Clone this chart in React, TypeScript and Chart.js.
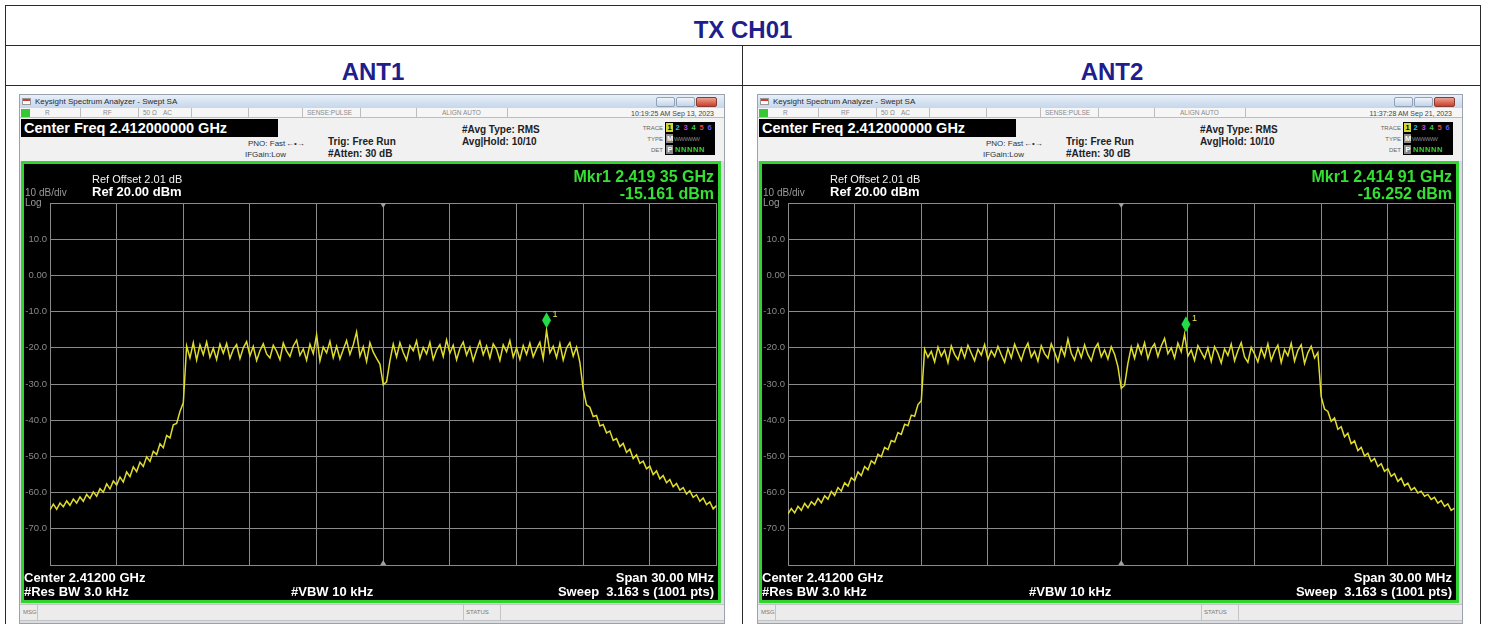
import React, { useEffect, useRef } from "react";
import { Chart, registerables } from "chart.js";

Chart.register(...registerables);
Chart.defaults.font.family = '"Liberation Sans", Arial, sans-serif';

// ---- sweep grid (1 point every 0.15 MHz, offset from centre 2.412 GHz) ----
const FREQ_START_MHZ = -15;
const FREQ_STEP_MHZ = 0.15;
const X_MIN = -15;
const X_MAX = 15;
const X_STEP = 3;
const Y_MIN = -80;
const Y_MAX = 20;
const Y_STEP = 10;
const Y_TICK_VALUES = [10, 0, -10, -20, -30, -40, -50, -60, -70];
const Y_TICK_TEXT = ["10.0", "0.00", "-10.0", "-20.0", "-30.0", "-40.0", "-50.0", "-60.0", "-70.0"];

// ---- ANT1 trace (dBm) ----
const ant1Trace = [
  -64.8, -63.2, -64.6, -62.9, -63.9, -62.3, -63.5, -61.8, -62.9, -61.2, -62.4, -60.5, -61.6, -59.8, -61.0, -58.9, -59.9, -57.6, -59.0, -56.8,
  -57.9, -55.7, -57.1, -54.3, -55.6, -52.9, -54.2, -51.6, -52.8, -50.1, -51.4, -48.6, -49.5, -46.5, -47.6, -44.2, -44.9, -41.3, -40.9, -37.6,
  -35.2,
  -19.5, -22.8, -18.6, -23.4, -19.2, -21.9, -18.4, -22.6, -20.1, -23.2, -19.0, -21.5, -18.8, -22.9, -20.4, -19.1, -23.0, -20.0, -18.3, -22.2,
  -19.6, -23.5, -20.8, -18.9, -21.7, -22.8, -19.3, -21.0, -23.3, -18.7, -20.9, -22.4, -19.5, -17.9, -22.1, -20.3, -23.4, -19.0, -21.6, -16.4,
  -23.6, -19.8, -21.4, -18.2, -22.7, -19.6, -23.1, -20.5, -18.0, -21.8, -19.2, -15.6, -22.3, -19.7, -23.8, -18.6, -21.2, -22.9,
  -24.5, -30.2, -29.4, -23.6,
  -19.0, -22.5, -18.6, -21.3, -23.4, -19.4, -20.8, -18.1, -22.9, -19.9, -21.7, -18.5, -23.2, -20.6, -19.1, -22.4, -17.8, -21.5,
  -19.3, -23.3, -20.2, -18.4, -22.0, -19.8, -23.6, -20.7, -18.2, -21.9, -19.5, -22.8, -18.9, -20.4, -23.5, -19.2, -21.1, -18.0, -22.6, -20.0,
  -23.2, -19.4, -21.8, -18.7, -22.5, -20.3, -18.5, -23.0, -15.161, -21.4, -19.6, -22.7, -18.8, -23.4, -20.1, -18.6, -22.3, -19.8, -24.0,
  -31.5, -35.8, -36.4, -39.0, -38.7, -41.6, -41.2, -43.5, -43.0, -45.6, -45.1, -47.3, -46.4, -48.9, -48.0, -50.6, -49.6, -51.9, -51.3, -53.4,
  -52.7, -55.0, -54.0, -56.2, -55.3, -57.3, -56.4, -58.4, -57.5, -59.3, -58.6, -60.4, -59.5, -61.3, -60.6, -62.4, -61.5, -63.3, -62.6, -64.5,
  -63.6,
];

// ---- ANT2 trace (dBm) ----
const ant2Trace = [
  -65.9, -64.4, -65.6, -63.8, -64.9, -63.0, -64.2, -62.5, -63.4, -61.6, -62.8, -60.9, -61.8, -59.7, -60.8, -58.6, -59.6, -57.3, -58.2, -55.9,
  -56.7, -54.3, -55.3, -52.8, -53.7, -51.2, -52.0, -49.4, -50.1, -47.5, -48.1, -45.6, -46.0, -43.4, -43.9, -41.1, -41.5, -38.6, -38.9, -35.7,
  -34.6,
  -20.4, -22.6, -21.0, -23.9, -19.8, -22.3, -20.6, -24.1, -19.5, -21.8, -23.3, -20.1, -22.7, -19.3, -21.5, -23.6, -20.4, -22.0, -19.1, -23.2,
  -20.8, -22.4, -19.6, -21.9, -24.0, -20.2, -22.8, -19.0, -21.3, -23.5, -20.5, -18.7, -22.6, -20.9, -23.7, -19.4, -21.6, -22.9, -18.9, -21.2,
  -23.8, -19.9, -22.2, -17.6, -21.5, -23.4, -20.1, -22.7, -19.2, -21.9, -23.6, -20.3, -18.8, -22.5, -20.6, -23.1, -19.7, -21.8,
  -25.2, -31.2, -30.4, -24.3,
  -19.8, -22.9, -19.1, -21.7, -18.6, -23.0, -20.2, -18.9, -22.4, -19.5, -17.4, -21.6, -20.0, -22.8, -18.7, -21.1, -16.252, -22.3,
  -20.6, -23.5, -19.4, -21.2, -22.9, -20.0, -23.8, -19.7, -21.5, -24.2, -20.3, -22.1, -19.0, -23.6, -20.8, -18.6, -22.5, -24.0, -19.9, -21.7,
  -23.9, -20.2, -22.6, -18.9, -23.5, -21.0, -19.3, -24.1, -20.5, -22.2, -18.8, -23.7, -20.7, -19.2, -24.3, -21.4, -19.6, -22.8, -21.3,
  -33.5, -36.9, -37.6, -40.3, -39.4, -42.5, -41.8, -44.6, -43.6, -46.5, -45.7, -48.4, -47.5, -49.9, -49.1, -51.4, -50.6, -52.8, -52.0, -54.1,
  -53.4, -55.5, -54.8, -56.9, -56.0, -58.1, -57.4, -59.3, -58.6, -60.1, -59.6, -61.0, -60.5, -61.9, -61.3, -62.9, -62.2, -63.8, -63.1, -64.9,
  -64.3,
];

// ---- markers (MHz offset, dBm) ----
const ant1Marker = [7.35, -15.161];
const ant2Marker = [2.91, -16.252];

const FONT = '"Liberation Sans", Arial, sans-serif';
const GRID = "#8a8a8a";
const NAVY = "#1e1e8c";
const GREEN = "#2fd42f";

function Txt({ x, y, s, t, c = "#000", b = false, a = "l", ls = 0 }: any) {
  const tr = a === "r" ? "translateX(-100%)" : a === "c" ? "translateX(-50%)" : undefined;
  return (
    <div
      style={{
        position: "absolute",
        left: x,
        top: y - s * 0.5,
        fontSize: s,
        lineHeight: `${s}px`,
        fontWeight: b ? 700 : 400,
        color: c,
        whiteSpace: "pre",
        transform: tr,
        letterSpacing: ls,
        fontFamily: FONT,
        zIndex: 3,
      }}
    >
      {t}
    </div>
  );
}

function Box({ x, y, w, h, st }: any) {
  return <div style={{ position: "absolute", left: x, top: y, width: w, height: h, boxSizing: "border-box", ...st }} />;
}

function Spectrum({ left, top, width, height, trace, marker }: any) {
  const ref = useRef<HTMLCanvasElement>(null);
  useEffect(() => {
    const points = trace.map((v: number, i: number) => ({ x: FREQ_START_MHZ + i * FREQ_STEP_MHZ, y: v }));
    const overlay = {
      id: "saOverlay",
      afterDatasetsDraw(chart: any) {
        const { ctx, chartArea } = chart;
        const xs = chart.scales.x;
        const ys = chart.scales.y;
        const cx = xs.getPixelForValue(0);
        ctx.save();
        ctx.fillStyle = "#a0a0a0";
        ctx.beginPath();
        ctx.moveTo(cx - 3, chartArea.top);
        ctx.lineTo(cx + 3, chartArea.top);
        ctx.lineTo(cx, chartArea.top + 5);
        ctx.closePath();
        ctx.fill();
        ctx.beginPath();
        ctx.moveTo(cx - 3, chartArea.bottom);
        ctx.lineTo(cx + 3, chartArea.bottom);
        ctx.lineTo(cx, chartArea.bottom - 5);
        ctx.closePath();
        ctx.fill();
        const mx = xs.getPixelForValue(marker[0]);
        const my = ys.getPixelForValue(marker[1]);
        ctx.fillStyle = "#23dc45";
        ctx.beginPath();
        ctx.moveTo(mx, my - 2);
        ctx.lineTo(mx + 4.5, my - 10);
        ctx.lineTo(mx, my - 18);
        ctx.lineTo(mx - 4.5, my - 10);
        ctx.closePath();
        ctx.fill();
        ctx.fillStyle = "#e4e450";
        ctx.font = `9px ${FONT}`;
        ctx.textBaseline = "middle";
        ctx.fillText("1", mx + 6, my - 16);
        ctx.restore();
      },
    };
    const chart = new Chart(ref.current as HTMLCanvasElement, {
      type: "line",
      data: {
        datasets: [
          {
            data: points,
            borderColor: "#e0dc2c",
            borderWidth: 1.5,
            pointRadius: 0,
            tension: 0,
            fill: false,
          },
        ],
      },
      options: {
        responsive: false,
        animation: false,
        devicePixelRatio: 1,
        layout: { padding: { top: 39, bottom: 35, left: 0, right: 1.5 } },
        plugins: { legend: { display: false }, tooltip: { enabled: false } },
        scales: {
          x: {
            type: "linear",
            min: X_MIN,
            max: X_MAX,
            ticks: { display: false, stepSize: X_STEP },
            grid: { color: GRID, lineWidth: 1, drawTicks: false },
            border: { display: true, color: GRID },
            afterFit(s: any) {
              s.height = 0;
            },
          },
          y: {
            min: Y_MIN,
            max: Y_MAX,
            ticks: {
              stepSize: Y_STEP,
              color: "#8a8a8a",
              font: { size: 9.5 },
              padding: 3,
              callback: (v: any) => {
                const k = Y_TICK_VALUES.indexOf(Number(v));
                return k >= 0 ? Y_TICK_TEXT[k] : "";
              },
            },
            grid: { color: GRID, lineWidth: 1, drawTicks: false },
            border: { display: true, color: GRID },
            afterFit(s: any) {
              s.width = 26;
            },
          },
        },
      },
      plugins: [overlay],
    } as any);
    return () => chart.destroy();
  }, []);
  return (
    <canvas
      ref={ref}
      width={width}
      height={height}
      style={{ position: "absolute", left, top, width, height, zIndex: 2 }}
    />
  );
}

function Panel({ dx, time, mkrF, mkrL, trace, marker }: any) {
  const X = (v: number) => v + dx;
  const seps = [80, 138, 191, 248, 302, 360, 416, 507];
  const traceNums = [
    ["1", "#000", "#d6d63a"],
    ["2", "#1fc8d8", ""],
    ["3", "#d044d0", ""],
    ["4", "#3ccc3c", ""],
    ["5", "#e04444", ""],
    ["6", "#5a5aff", ""],
  ];
  return (
    <>
      {/* window frame */}
      <Box x={X(19)} y={94} w={706} h={530} st={{ background: "#d9dde2", border: "1px solid #9aa3ad" }} />
      <Box x={X(20)} y={95} w={704} h={13} st={{ background: "linear-gradient(#e8f0fa,#c6d6eb)" }} />
      <Box x={X(22)} y={98} w={9} h={7} st={{ background: "linear-gradient(#d33 45%,#fff 45%)", border: "1px solid #999" }} />
      <Txt x={X(35)} y={101.5} s={8} t="Keysight Spectrum Analyzer - Swept SA" c="#2a2a2a" />
      <Box x={X(656)} y={97} w={19} h={10} st={{ background: "linear-gradient(#eef4fb,#c4d4e8)", border: "1px solid #8fa2b8", borderRadius: 2 }} />
      <Box x={X(676)} y={97} w={19} h={10} st={{ background: "linear-gradient(#eef4fb,#c4d4e8)", border: "1px solid #8fa2b8", borderRadius: 2 }} />
      <Box x={X(696)} y={97} w={21} h={10} st={{ background: "linear-gradient(#eea08f,#c9402c)", border: "1px solid #8a3a2e", borderRadius: 2 }} />
      {/* status row */}
      <Box x={X(20)} y={108} w={704} h={10} st={{ background: "#f6f6f6", borderBottom: "1px solid #bdbdbd" }} />
      <Box x={X(21)} y={109} w={9} h={8} st={{ background: "#36c936" }} />
      {seps.map((s) => (
        <Box key={s} x={X(s)} y={108} w={1} h={10} st={{ background: "#bdbdbd" }} />
      ))}
      <Txt x={X(45)} y={113} s={6.5} t="R" c="#8a8a8a" />
      <Txt x={X(103)} y={113} s={6.5} t="RF" c="#8a8a8a" />
      <Txt x={X(143)} y={113} s={6.5} t="50 Ω" c="#8a8a8a" />
      <Txt x={X(163)} y={113} s={6.5} t="AC" c="#8a8a8a" />
      <Txt x={X(307)} y={113} s={6.5} t="SENSE:PULSE" c="#8a8a8a" />
      <Txt x={X(442)} y={113} s={6.5} t="ALIGN AUTO" c="#8a8a8a" />
      <Txt x={X(714)} y={113} s={7} t={time} c="#444" a="r" />
      {/* info area */}
      <Box x={X(20)} y={118} w={704} h={43} st={{ background: "#f1f1f1" }} />
      <Box x={X(21)} y={119} w={257} h={18} st={{ background: "#000" }} />
      <Txt x={X(24)} y={128.5} s={14.5} b t="Center Freq 2.412000000 GHz" c="#fff" />
      <Txt x={X(248)} y={144} s={8} t="PNO: Fast" c="#333" />
      <Txt x={X(245)} y={155} s={8} t="IFGain:Low" c="#333" />
      <Txt x={X(286)} y={143.5} s={8} t="←•→" c="#333" />
      <Txt x={X(328)} y={142} s={10} b t="Trig: Free Run" c="#222" />
      <Txt x={X(328)} y={154} s={10} b t="#Atten: 30 dB" c="#222" />
      <Txt x={X(462)} y={130} s={10} b t="#Avg Type: RMS" c="#222" />
      <Txt x={X(462)} y={141.5} s={10} b t="Avg|Hold: 10/10" c="#222" />
      <Txt x={X(663)} y={127.5} s={6} t="TRACE" c="#666" a="r" />
      <Txt x={X(663)} y={138.5} s={6} t="TYPE" c="#666" a="r" />
      <Txt x={X(663)} y={149.5} s={6} t="DET" c="#666" a="r" />
      <Box x={X(665)} y={122} w={50} h={33} st={{ background: "#000" }} />
      {traceNums.map(([n, col, bg], i) => (
        <React.Fragment key={n}>
          {bg ? <Box x={X(666 + i * 8)} y={123} w={7} h={9} st={{ background: bg }} /> : null}
          <Txt x={X(667.5 + i * 8)} y={127.5} s={7.5} b t={n} c={col} />
        </React.Fragment>
      ))}
      <Box x={X(666)} y={134} w={7} h={9} st={{ background: "#8a8a8a" }} />
      <Txt x={X(667)} y={138.5} s={7.5} b t="M" c="#fff" />
      <Txt x={X(674)} y={138.5} s={6} t="WWWWW" c="#8a8a8a" ls={-0.6} />
      <Box x={X(666)} y={145} w={7} h={9} st={{ background: "#8a8a8a" }} />
      <Txt x={X(667.5)} y={149.5} s={7.5} b t="P" c="#fff" />
      <Txt x={X(675)} y={149.5} s={7.5} b t="NNNNN" c="#3ccc3c" ls={0.6} />
      {/* display */}
      <Box x={X(21)} y={161} w={700} h={442} st={{ background: "#000", border: `3px solid ${GREEN}` }} />
      <Spectrum left={X(24)} top={164} width={694} height={436} trace={trace} marker={marker} />
      <Txt x={X(92)} y={179} s={11} t="Ref Offset 2.01 dB" c="#f2f2f2" />
      <Txt x={X(92)} y={191} s={13} b t="Ref 20.00 dBm" c="#ffffff" />
      <Txt x={X(25)} y={193} s={10} t="10 dB/div" c="#9a9a9a" />
      <Txt x={X(25)} y={203} s={10} t="Log" c="#9a9a9a" />
      <Txt x={X(714)} y={176.5} s={16} b t={mkrF} c="#33e033" a="r" />
      <Txt x={X(714)} y={193.5} s={16} b t={mkrL} c="#33e033" a="r" />
      <Txt x={X(24)} y={577} s={13} b t="Center 2.41200 GHz" c="#fff" />
      <Txt x={X(24)} y={591} s={13} b t="#Res BW 3.0 kHz" c="#fff" />
      <Txt x={X(291)} y={591} s={13} b t="#VBW 10 kHz" c="#fff" />
      <Txt x={X(714)} y={577} s={13} b t="Span 30.00 MHz" c="#fff" a="r" />
      <Txt x={X(714)} y={591} s={13} b t="Sweep  3.163 s (1001 pts)" c="#fff" a="r" />
      {/* message bar */}
      <Box x={X(20)} y={604} w={704} h={17} st={{ background: "#ececec", borderTop: "1px solid #c4c4c4", borderBottom: "1px solid #c4c4c4" }} />
      <Box x={X(37)} y={604} w={1} h={17} st={{ background: "#c4c4c4" }} />
      <Box x={X(463)} y={604} w={1} h={17} st={{ background: "#c4c4c4" }} />
      <Box x={X(500)} y={604} w={1} h={17} st={{ background: "#c4c4c4" }} />
      <Txt x={X(23)} y={612} s={6} t="MSG" c="#777" />
      <Txt x={X(466)} y={612} s={6} t="STATUS" c="#777" />
    </>
  );
}

export default function App() {
  return (
    <div
      style={{
        position: "absolute",
        left: 0,
        top: 0,
        width: 1488,
        height: 624,
        background: "#fff",
        overflow: "hidden",
        fontFamily: FONT,
      }}
    >
      {/* table grid */}
      <Box x={5} y={5} w={1476} h={640} st={{ border: "1px solid #2a2a2a" }} />
      <Box x={5} y={45} w={1476} h={1} st={{ background: "#2a2a2a" }} />
      <Box x={5} y={85} w={1476} h={1} st={{ background: "#2a2a2a" }} />
      <Box x={742} y={45} w={1} h={600} st={{ background: "#2a2a2a" }} />
      <Txt x={743} y={29.5} s={24} b t="TX CH01" c={NAVY} a="c" />
      <Txt x={373} y={72} s={24} b t="ANT1" c={NAVY} a="c" />
      <Txt x={1112} y={72} s={24} b t="ANT2" c={NAVY} a="c" />
      <Panel dx={0} time="10:19:25 AM Sep 13, 2023" mkrF="Mkr1 2.419 35 GHz" mkrL="-15.161 dBm" trace={ant1Trace} marker={ant1Marker} />
      <Panel dx={738} time="11:37:28 AM Sep 21, 2023" mkrF="Mkr1 2.414 91 GHz" mkrL="-16.252 dBm" trace={ant2Trace} marker={ant2Marker} />
    </div>
  );
}
